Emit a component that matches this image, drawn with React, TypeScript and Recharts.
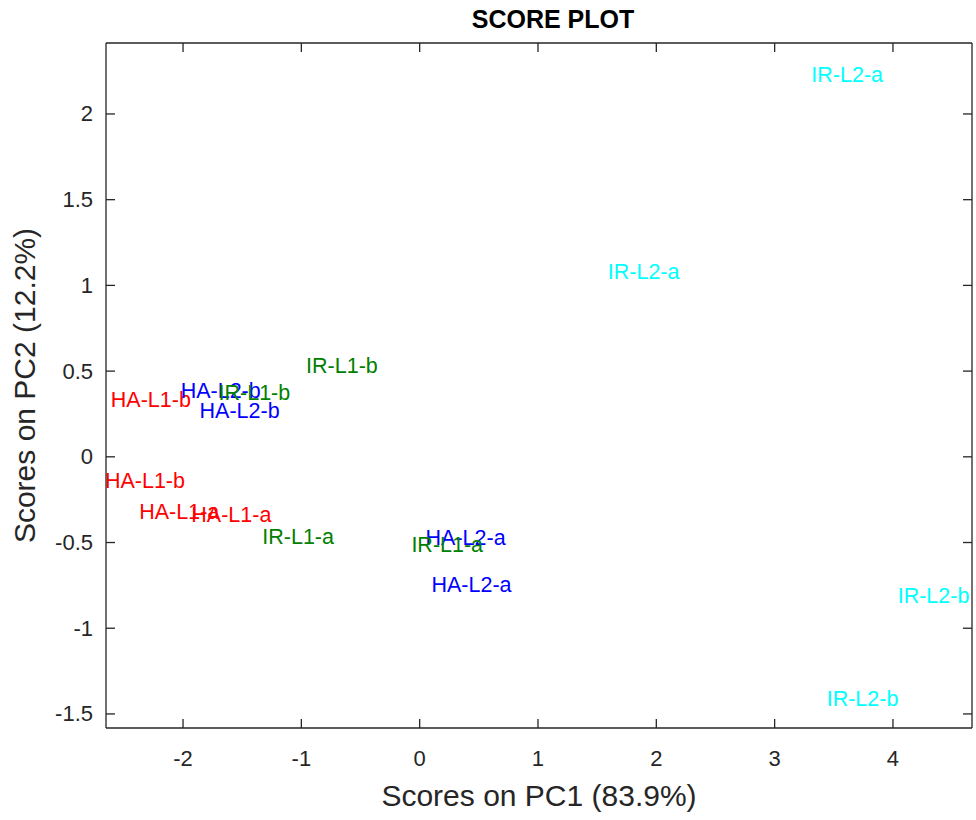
import { ScatterChart, Scatter, XAxis, YAxis } from "recharts";

// PCA-Scores, je Probe ein Punkt (Beschriftung = Probenname)
const sampleNames = [
  "HA-L1-b", "HA-L1-b", "HA-L1-a", "HA-L1-a",
  "HA-L2-b", "HA-L2-b", "HA-L2-a", "HA-L2-a",
  "IR-L1-b", "IR-L1-b", "IR-L1-a", "IR-L1-a",
  "IR-L2-a", "IR-L2-a", "IR-L2-b", "IR-L2-b",
];
const sampleGroups = [
  "HA-L1", "HA-L1", "HA-L1", "HA-L1",
  "HA-L2", "HA-L2", "HA-L2", "HA-L2",
  "IR-L1", "IR-L1", "IR-L1", "IR-L1",
  "IR-L2", "IR-L2", "IR-L2", "IR-L2",
];
const pc1Scores = [
  -2.61, -2.66, -2.37, -1.93,
  -2.02, -1.86, 0.05, 0.1,
  -1.7, -0.96, -1.33, -0.07,
  3.31, 1.59, 4.04, 3.44,
];
const pc2Scores = [
  0.33, -0.14, -0.32, -0.34,
  0.385, 0.27, -0.475, -0.75,
  0.37, 0.53, -0.47, -0.515,
  2.23, 1.08, -0.81, -1.41,
];

const groups = ["HA-L1", "HA-L2", "IR-L1", "IR-L2"];
const groupColors = ["#ff0000", "#0000ff", "#008000", "#00ffff"];

const xTicks = [-2, -1, 0, 1, 2, 3, 4];
const yTicks = [-1.5, -1, -0.5, 0, 0.5, 1, 1.5, 2];
const xDomain = [-2.651, 4.668];
const yDomain = [-1.582, 2.414];

const FONT = "Arial, 'Liberation Sans', Helvetica, sans-serif";
const AXIS = "#262626";
const TICK_LEN = 9;
const X_MARGIN = 30;
const Y_MARGIN = 13;

const seriesData = groups.map((g) =>
  sampleNames
    .map((name, i) => ({ name, group: sampleGroups[i], x: pc1Scores[i], y: pc2Scores[i] }))
    .filter((d) => d.group === g)
);

// Beschriftung statt Marker: linksbuendig, vertikal mittig am Punkt
function labelShape(color: string) {
  return (props: any) => (
    <text
      x={props.cx}
      y={props.cy}
      fill={color}
      fontSize={21.5}
      fontFamily={FONT}
      dominantBaseline="central"
      textAnchor="start"
    >
      {props.payload.name}
    </text>
  );
}

// Ticks zeigen nach innen (MATLAB-Stil)
const BottomTick = (p: any) => (
  <g>
    <line x1={p.x} x2={p.x} y1={p.y - X_MARGIN} y2={p.y - X_MARGIN - TICK_LEN} stroke={AXIS} strokeWidth={1.3} />
    <text x={p.x} y={p.y} textAnchor="middle" dominantBaseline="central" fontSize={22} fontFamily={FONT} fill={AXIS}>
      {String(p.payload.value)}
    </text>
  </g>
);

const LeftTick = (p: any) => (
  <g>
    <line x1={p.x + Y_MARGIN} x2={p.x + Y_MARGIN + TICK_LEN} y1={p.y} y2={p.y} stroke={AXIS} strokeWidth={1.3} />
    <text x={p.x} y={p.y} textAnchor="end" dominantBaseline="central" fontSize={22} fontFamily={FONT} fill={AXIS}>
      {String(p.payload.value)}
    </text>
  </g>
);

const TopTick = (p: any) => (
  <line x1={p.x} x2={p.x} y1={p.y} y2={p.y + TICK_LEN} stroke={AXIS} strokeWidth={1.3} />
);

const RightTick = (p: any) => (
  <line x1={p.x} x2={p.x - TICK_LEN} y1={p.y} y2={p.y} stroke={AXIS} strokeWidth={1.3} />
);

const TitleLabel = (p: any) => {
  const vb = p.viewBox;
  return (
    <text x={vb.x + vb.width / 2 + 14} y={19} textAnchor="middle" dominantBaseline="central" fontSize={25} fontWeight="bold" fontFamily={FONT} fill="#000">
      SCORE PLOT
    </text>
  );
};

const XTitle = (p: any) => {
  const vb = p.viewBox;
  return (
    <text x={vb.x + vb.width / 2} y={795} textAnchor="middle" dominantBaseline="central" fontSize={30} fontFamily={FONT} fill={AXIS}>
      Scores on PC1 (83.9%)
    </text>
  );
};

const YTitle = (p: any) => {
  const vb = p.viewBox;
  const cy = vb.y + vb.height / 2;
  return (
    <text x={24} y={cy} transform={`rotate(-90, 24, ${cy})`} textAnchor="middle" dominantBaseline="central" fontSize={30} fontFamily={FONT} fill={AXIS}>
      Scores on PC2 (12.2%)
    </text>
  );
};

export default function App() {
  return (
    <div style={{ position: "absolute", left: 0, top: 0, width: 976, height: 820, background: "#fff" }}>
      <ScatterChart width={976} height={820} margin={{ top: 42, right: 3, bottom: 0, left: 0 }}>
        <XAxis
          xAxisId="b"
          type="number"
          dataKey="x"
          orientation="bottom"
          domain={xDomain}
          ticks={xTicks}
          allowDataOverflow
          height={92}
          tickSize={0}
          tickMargin={X_MARGIN}
          tickLine={false}
          tick={BottomTick}
          axisLine={{ stroke: AXIS, strokeWidth: 1.3 }}
          label={<XTitle />}
        />
        <XAxis
          xAxisId="t"
          type="number"
          dataKey="x"
          orientation="top"
          domain={xDomain}
          ticks={xTicks}
          allowDataOverflow
          height={1}
          tickSize={0}
          tickMargin={0}
          tickLine={false}
          tick={TopTick}
          axisLine={{ stroke: AXIS, strokeWidth: 1.3 }}
          label={<TitleLabel />}
        />
        <YAxis
          yAxisId="l"
          type="number"
          dataKey="y"
          orientation="left"
          domain={yDomain}
          ticks={yTicks}
          allowDataOverflow
          width={106}
          tickSize={0}
          tickMargin={Y_MARGIN}
          tickLine={false}
          tick={LeftTick}
          axisLine={{ stroke: AXIS, strokeWidth: 1.3 }}
          label={<YTitle />}
        />
        <YAxis
          yAxisId="r"
          type="number"
          dataKey="y"
          orientation="right"
          domain={yDomain}
          ticks={yTicks}
          allowDataOverflow
          width={1}
          tickSize={0}
          tickMargin={0}
          tickLine={false}
          tick={RightTick}
          axisLine={{ stroke: AXIS, strokeWidth: 1.3 }}
        />
        {groups.map((g, i) => (
          <Scatter
            key={g}
            name={g}
            data={seriesData[i]}
            xAxisId="b"
            yAxisId="l"
            fill={groupColors[i]}
            shape={labelShape(groupColors[i])}
            isAnimationActive={false}
          />
        ))}
      </ScatterChart>
    </div>
  );
}
